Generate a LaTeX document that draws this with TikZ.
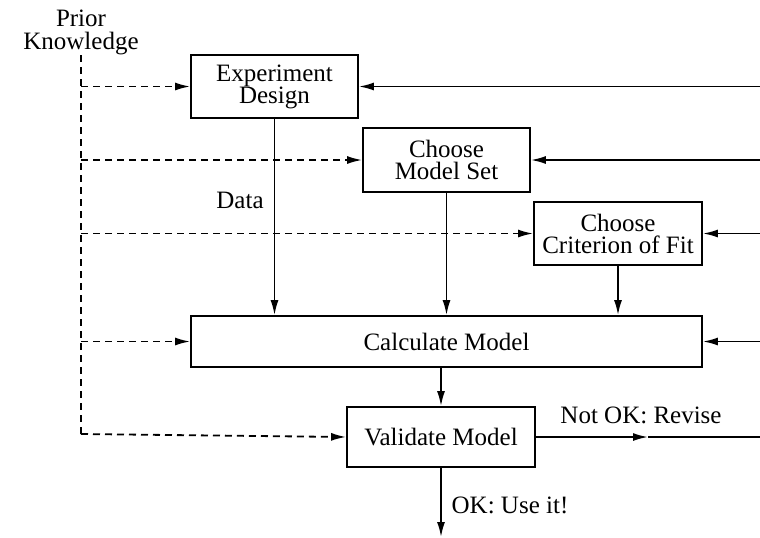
\documentclass[tikz,border=0pt]{standalone}
\usepackage{fontspec}
\setmainfont{Liberation Serif}
\usetikzlibrary{arrows.meta}

\begin{document}
\begin{tikzpicture}[x = 0.5pt, y = -0.5pt]
\tikzstyle{BoxStyle} = [draw, line width = 0.9pt, align = center, inner sep = 0pt, font = \fontsize{12.5}{11}\selectfont]
\tikzstyle{LabelStyle} = [align = center, inner sep = 0pt, font = \fontsize{12.5}{11.5}\selectfont]
\tikzstyle{FlowStyle} = [line width = 0.9pt, -{Latex[length = 7.5pt, width = 4pt]}]
\tikzstyle{PriorStyle} = [line width = 0.9pt, dash pattern = on 3.5pt off 2.5pt]
\useasboundingbox (0,0) rectangle (760,537);
\node[BoxStyle, minimum width = 83.5pt, minimum height = 31.5pt] (design) at (274.5,86.5) {Experiment\\Design};
\node[BoxStyle, minimum width = 83.5pt, minimum height = 32pt] (modelset) at (446.5,160) {Choose\\Model Set};
\node[BoxStyle, minimum width = 84pt, minimum height = 31.5pt] (criterion) at (618,233.5) {Choose\\Criterion of Fit};
\node[BoxStyle, minimum width = 255.5pt, minimum height = 25.5pt] (calculate) at (446.5,341.5) {Calculate Model};
\node[BoxStyle, minimum width = 94pt, minimum height = 30pt] (validate) at (441,437) {Validate Model};
\node[LabelStyle] (prior) at (81,32) {Prior\\Knowledge};
\node[LabelStyle] (data) at (240,200) {Data};
\node[LabelStyle] (notok) at (641,415) {Not OK: Revise};
\node[LabelStyle] (okuse) at (510,505) {OK: Use it!};
\coordinate (ptop) at (81,55);
\coordinate (pbot) at (81,434);
\coordinate (fb1) at (760,86.5);
\coordinate (fb2) at (760,160);
\coordinate (fb3) at (760,233.5);
\coordinate (fb4) at (760,341.5);
\coordinate (revmid) at (648,437);
\coordinate (revend) at (760,437);
\coordinate (useend) at (441,537);
% prior knowledge
\draw[PriorStyle] (ptop) -- (pbot);
\draw[PriorStyle, FlowStyle] (pbot) -- (validate.west);
\draw[PriorStyle, FlowStyle] (ptop |- design.west) -- (design.west);
\draw[PriorStyle, FlowStyle] (ptop |- modelset.west) -- (modelset.west);
\draw[PriorStyle, FlowStyle] (ptop |- criterion.west) -- (criterion.west);
\draw[PriorStyle, FlowStyle] (ptop |- calculate.west) -- (calculate.west);
% main flow
\draw[FlowStyle] (design.south) -- (design.south |- calculate.north);
\draw[FlowStyle] (modelset.south) -- (modelset.south |- calculate.north);
\draw[FlowStyle] (criterion.south) -- (criterion.south |- calculate.north);
\draw[FlowStyle] (validate.north |- calculate.south) -- (validate.north);
\draw[FlowStyle] (validate.south) -- (useend);
\draw[FlowStyle] (validate.east) -- (revmid);
\draw[line width = 0.9pt] (revmid) -- (revend);
% feedback
\draw[FlowStyle] (fb1) -- (design.east);
\draw[FlowStyle] (fb2) -- (modelset.east);
\draw[FlowStyle] (fb3) -- (criterion.east);
\draw[FlowStyle] (fb4) -- (calculate.east);
\end{tikzpicture}
\end{document}
